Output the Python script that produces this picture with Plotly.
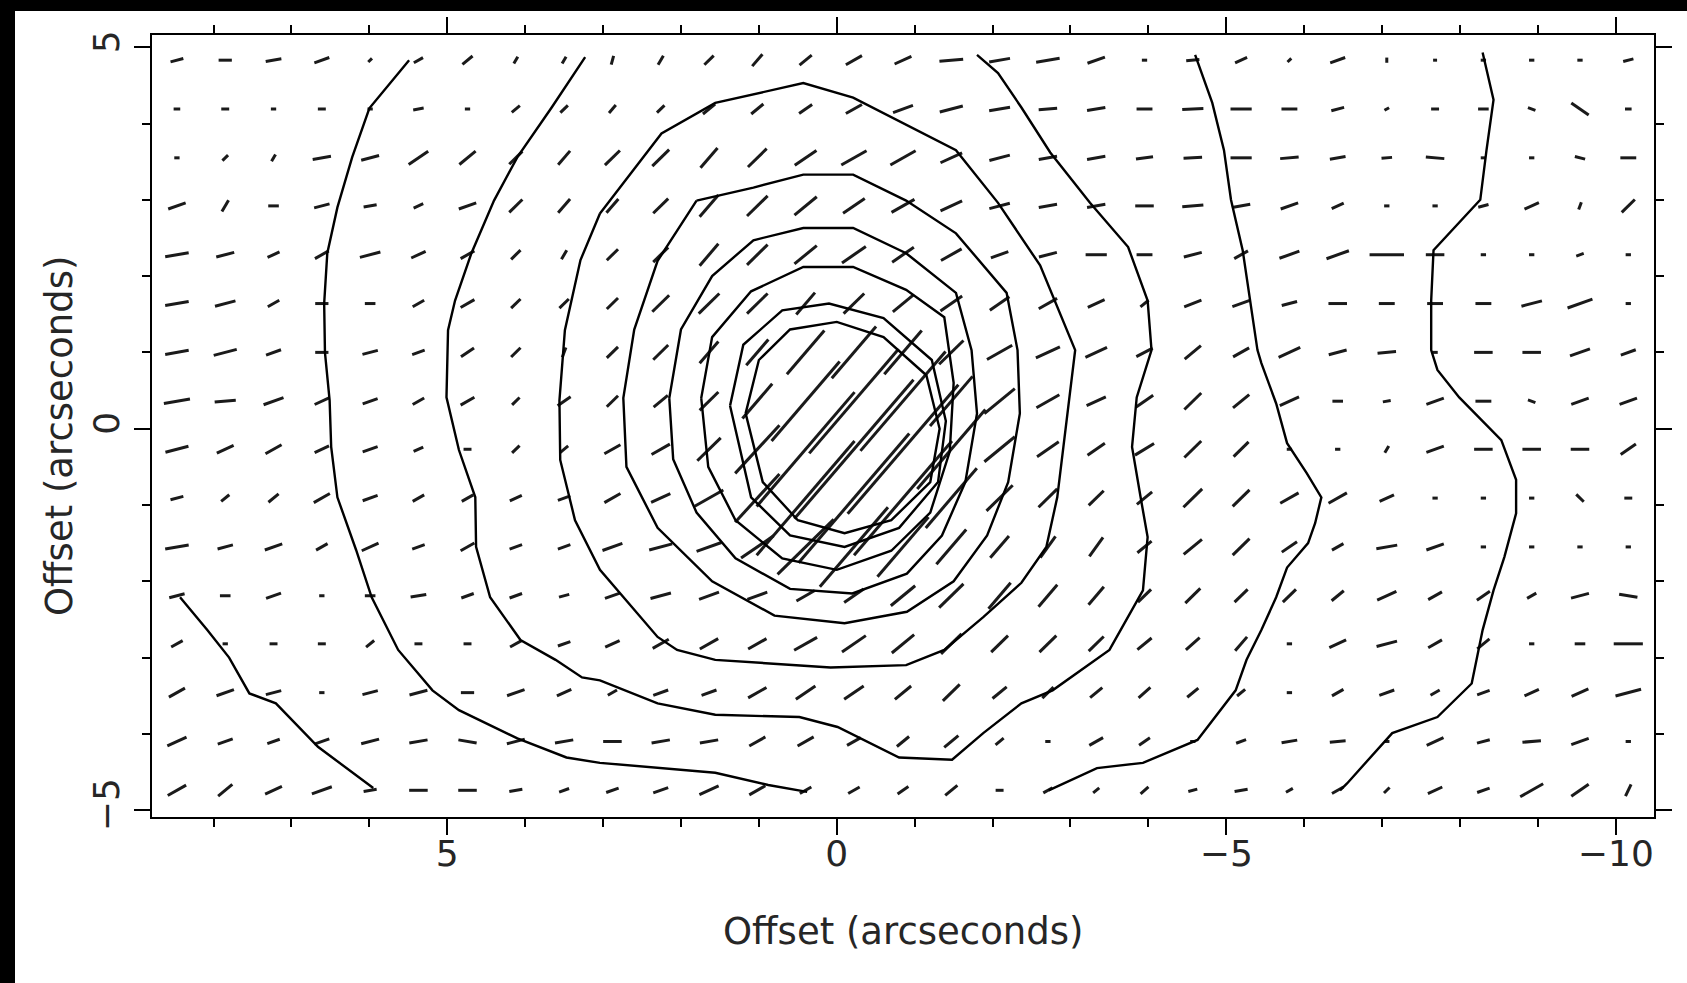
import numpy as np
import plotly.graph_objects as go

# Grid of polarization measurements (offsets in arcseconds)
x_cols = [8.47, 7.85, 7.23, 6.61, 5.99, 5.37, 4.74, 4.12, 3.50, 2.88, 2.26, 1.64, 1.02, 0.40,
          -0.22, -0.85, -1.47, -2.09, -2.71, -3.33, -3.95, -4.57, -5.19, -5.81, -6.43, -7.06,
          -7.68, -8.30, -8.92, -9.54, -10.16]
y_rows = [4.83, 4.19, 3.55, 2.92, 2.28, 1.64, 1.00, 0.36, -0.27, -0.91, -1.55, -2.19,
          -2.82, -3.46, -4.10, -4.74]

# Polarization degree (%) per row, north to south
pol_pct = [
    [1.0, 1.0, 1.2, 1.2, 0.4, 0.8, 1.0, 0.6, 0.6, 0.7, 0.8, 1.0, 1.2, 1.2, 1.4, 1.4, 1.8, 1.6, 1.8, 1.4, 0.4, 1.0, 1.0, 0.4, 1.2, 0.4, 0.3, 0.4, 0.4, 0.4, 0.8],
    [0.5, 0.6, 0.4, 0.6, 0.4, 0.8, 0.4, 0.8, 0.8, 0.8, 0.8, 1.2, 1.2, 1.2, 1.4, 1.6, 1.8, 1.6, 1.4, 1.4, 1.2, 1.6, 1.6, 1.2, 1.0, 0.4, 0.6, 0.8, 0.6, 1.6, 0.5],
    [0.4, 0.6, 0.6, 1.4, 1.4, 1.8, 1.6, 1.4, 1.4, 1.6, 1.8, 2.0, 2.0, 2.0, 2.2, 2.2, 1.8, 1.6, 1.4, 1.4, 1.3, 1.4, 1.6, 1.4, 1.2, 0.8, 1.4, 0.4, 0.4, 0.8, 1.2],
    [1.4, 1.0, 0.8, 1.2, 1.0, 0.8, 1.4, 1.4, 1.4, 1.4, 1.6, 2.2, 2.2, 2.2, 2.0, 2.0, 1.8, 1.6, 1.4, 1.4, 1.4, 1.6, 1.4, 1.4, 1.0, 0.4, 0.4, 0.8, 1.2, 0.6, 1.4],
    [1.8, 1.4, 1.0, 1.2, 1.6, 1.2, 1.2, 1.0, 0.8, 1.2, 1.6, 2.2, 2.2, 2.2, 2.2, 2.0, 1.8, 1.4, 1.4, 1.6, 1.2, 1.4, 1.2, 1.6, 1.8, 2.6, 1.4, 0.4, 0.4, 0.6, 0.4],
    [1.8, 1.6, 1.0, 1.0, 0.8, 1.0, 1.2, 1.0, 1.0, 1.2, 1.8, 2.2, 2.2, 2.2, 2.2, 2.0, 2.0, 1.8, 1.6, 1.4, 0.8, 1.4, 1.4, 1.2, 1.4, 1.2, 1.2, 1.2, 1.6, 2.0, 0.4],
    [1.8, 1.8, 1.2, 1.0, 1.2, 1.0, 1.2, 1.0, 0.8, 1.2, 1.6, 2.2, 2.6, 4.4, 5.2, 4.4, 2.6, 2.2, 2.0, 1.8, 1.4, 1.6, 1.4, 1.8, 1.4, 1.4, 0.4, 1.4, 1.4, 1.6, 1.2],
    [2.0, 1.6, 1.6, 1.2, 1.2, 1.0, 1.2, 0.8, 1.2, 1.2, 1.4, 2.0, 3.5, 8.0, 10.5, 10.0, 5.0, 3.0, 2.0, 1.6, 1.6, 1.8, 1.6, 1.6, 0.8, 0.6, 1.4, 1.2, 0.6, 1.4, 1.4],
    [1.8, 1.4, 1.4, 1.2, 1.2, 0.8, 0.6, 0.8, 0.8, 1.4, 1.6, 2.5, 5.0, 11.5, 14.0, 13.0, 8.0, 3.0, 2.0, 1.6, 1.7, 1.8, 1.6, 0.4, 0.4, 0.6, 1.4, 1.4, 1.4, 1.4, 1.4],
    [1.0, 0.8, 1.0, 1.4, 1.2, 1.0, 1.0, 1.0, 1.0, 1.4, 1.6, 2.5, 5.0, 11.5, 13.0, 11.5, 6.0, 2.8, 2.0, 1.6, 1.5, 2.0, 1.8, 1.6, 1.6, 1.2, 0.4, 0.4, 0.4, 0.8, 0.6],
    [1.8, 1.2, 1.4, 1.0, 1.4, 1.0, 1.2, 1.0, 1.0, 1.6, 1.8, 2.0, 3.0, 6.0, 8.0, 6.0, 3.5, 2.2, 2.0, 1.8, 1.4, 1.8, 1.8, 1.4, 1.0, 1.6, 1.4, 0.4, 0.4, 0.4, 0.4],
    [1.2, 0.8, 1.2, 0.4, 0.8, 1.2, 1.0, 1.0, 0.8, 1.2, 1.6, 1.6, 1.6, 1.6, 1.8, 2.4, 2.6, 2.6, 2.2, 1.8, 1.4, 1.6, 1.4, 1.4, 1.2, 1.6, 1.2, 1.2, 0.8, 1.4, 1.4],
    [1.0, 0.4, 0.6, 0.6, 0.8, 0.6, 0.6, 1.0, 1.0, 1.2, 1.4, 1.6, 1.6, 2.0, 2.2, 2.2, 2.2, 1.8, 1.8, 1.6, 1.4, 1.4, 1.4, 0.4, 1.4, 1.6, 1.2, 1.2, 0.4, 0.8, 2.2],
    [1.4, 1.4, 1.2, 0.4, 1.2, 1.4, 1.0, 1.4, 1.2, 0.8, 1.2, 1.2, 1.6, 1.8, 1.8, 1.6, 1.8, 1.4, 1.2, 1.2, 1.2, 1.1, 0.8, 0.4, 1.0, 1.2, 0.8, 1.0, 1.2, 1.4, 2.0],
    [1.6, 1.2, 1.0, 1.2, 1.4, 1.4, 1.4, 1.4, 1.4, 1.4, 1.4, 1.4, 1.4, 1.4, 1.2, 1.2, 1.4, 0.8, 0.4, 1.2, 1.0, 0.4, 0.8, 1.2, 1.2, 0.4, 1.4, 1.0, 1.4, 1.4, 0.4],
    [1.6, 1.4, 1.4, 1.6, 1.0, 1.4, 1.4, 1.0, 0.8, 1.0, 1.2, 1.6, 1.4, 1.0, 1.0, 1.0, 1.2, 0.6, 0.8, 0.6, 0.8, 0.7, 1.0, 0.6, 1.0, 0.6, 1.2, 1.0, 2.0, 1.6, 1.0],
]

# Position angle of the E-vector (degrees, north through east)
pol_pa = [
    [105, 90, 100, 110, 135, 120, 130, 150, 150, 165, 150, 135, 140, 130, 120, 115, 95, 100, 100, 110, 90, 95, 115, 135, 110, 180, 90, 90, 90, 90, 105],
    [90, 90, 90, 90, 90, 100, 90, 130, 135, 140, 135, 130, 130, 125, 120, 110, 105, 100, 95, 100, 90, 93, 90, 90, 105, 120, 90, 90, 70, 55, 90],
    [90, 135, 150, 100, 105, 125, 130, 135, 140, 135, 135, 140, 135, 125, 120, 120, 115, 105, 100, 100, 98, 93, 90, 95, 100, 95, 85, 90, 90, 75, 90],
    [110, 150, 90, 105, 100, 115, 110, 135, 140, 140, 135, 140, 135, 130, 125, 120, 115, 105, 100, 100, 90, 95, 100, 110, 115, 90, 90, 105, 115, 160, 135],
    [100, 105, 115, 120, 105, 115, 120, 135, 150, 135, 135, 140, 135, 130, 125, 125, 120, 110, 105, 90, 90, 105, 120, 110, 110, 90, 90, 90, 90, 110, 90],
    [100, 105, 120, 90, 90, 120, 120, 135, 135, 135, 135, 135, 135, 140, 135, 130, 125, 125, 120, 115, 130, 112, 110, 105, 90, 90, 90, 90, 105, 110, 90],
    [100, 105, 110, 90, 105, 110, 125, 135, 160, 135, 135, 140, 140, 140, 140, 140, 135, 120, 115, 115, 118, 130, 120, 115, 105, 95, 90, 90, 90, 110, 110],
    [100, 95, 110, 115, 110, 120, 120, 135, 125, 135, 130, 135, 140, 140, 140, 140, 140, 130, 120, 115, 125, 135, 130, 115, 90, 100, 110, 90, 70, 110, 110],
    [105, 115, 120, 115, 110, 115, 90, 135, 130, 120, 120, 135, 138, 140, 140, 140, 140, 130, 125, 125, 122, 135, 135, 90, 90, 150, 110, 90, 90, 90, 125],
    [105, 130, 130, 120, 110, 120, 120, 115, 110, 120, 115, 120, 138, 140, 140, 140, 140, 135, 135, 135, 130, 135, 135, 120, 120, 115, 90, 90, 90, 45, 90],
    [100, 105, 110, 120, 115, 110, 120, 110, 110, 110, 105, 110, 125, 135, 140, 140, 140, 140, 145, 145, 130, 130, 135, 125, 120, 100, 110, 90, 90, 90, 90],
    [105, 90, 110, 90, 90, 100, 110, 110, 105, 110, 105, 110, 110, 120, 125, 130, 135, 140, 140, 140, 135, 135, 135, 135, 130, 115, 120, 125, 120, 105, 80],
    [120, 90, 90, 90, 130, 90, 90, 120, 110, 115, 120, 120, 120, 120, 125, 130, 135, 135, 135, 135, 130, 132, 140, 90, 115, 105, 120, 130, 90, 90, 90],
    [120, 110, 105, 90, 105, 105, 90, 110, 115, 120, 110, 110, 120, 125, 125, 130, 135, 130, 135, 130, 132, 130, 130, 90, 120, 110, 120, 110, 115, 115, 105],
    [115, 110, 110, 110, 105, 100, 80, 105, 100, 90, 100, 100, 120, 120, 120, 130, 130, 130, 90, 120, 125, 90, 110, 100, 95, 90, 115, 105, 95, 110, 90],
    [120, 130, 115, 110, 100, 90, 90, 100, 110, 110, 110, 115, 120, 120, 120, 125, 130, 90, 120, 130, 132, 105, 100, 120, 120, 135, 115, 110, 120, 125, 155],
]

VEC_SCALE = 0.17  # arcseconds of vector length per percent polarization

# Intensity contours (open paths run off the map edge)
contour_paths = {
    "c1_east": ([8.43, 8.08, 7.80, 7.54, 7.20, 6.66, 5.95],
                [-2.21, -2.64, -3.00, -3.47, -3.60, -4.17, -4.71]),
    "c2_east": ([5.49, 6.00, 6.22, 6.41, 6.54, 6.58, 6.57, 6.51, 6.49, 6.41, 6.17, 5.97, 5.63, 5.19,
                 4.85, 4.10, 3.47, 3.04, 1.56, 0.88, 0.38],
                [4.83, 4.20, 3.56, 2.90, 2.30, 1.64, 1.00, 0.37, -0.24, -0.90, -1.59, -2.21, -2.90,
                 -3.43, -3.69, -4.06, -4.31, -4.38, -4.51, -4.67, -4.76]),
    "c3": ([3.23, 3.66, 4.10, 4.40, 4.69, 4.90, 4.99, 5.01, 4.85, 4.64, 4.63, 4.45, 4.06, 3.61, 3.27,
            3.04, 2.30, 1.56, 0.48, -0.01, -0.80, -1.48, -1.88, -2.37, -2.77, -3.50, -3.93, -3.99,
            -3.90, -3.79, -3.85, -4.04, -3.99, -3.74, -3.25, -2.74, -2.37, -2.07, -1.80],
           [4.87, 4.21, 3.56, 2.99, 2.30, 1.68, 1.29, 0.41, -0.28, -0.90, -1.55, -2.21, -2.77, -3.03,
            -3.26, -3.30, -3.60, -3.75, -3.78, -3.91, -4.31, -4.34, -3.99, -3.60, -3.43, -2.90, -2.12,
            -1.42, -0.90, -0.24, 0.41, 1.03, 1.68, 2.38, 2.96, 3.62, 4.21, 4.66, 4.90]),
    "c2_west": ([-4.60, -4.82, -4.97, -5.06, -5.21, -5.31, -5.40, -5.45, -5.64, -5.78, -6.03, -6.22,
                 -6.14, -6.05, -5.78, -5.64, -5.45, -5.26, -5.12, -4.63, -3.93, -3.34, -2.72],
                [4.90, 4.27, 3.65, 3.00, 2.34, 1.68, 1.03, 0.86, 0.33, -0.19, -0.58, -0.90, -1.24,
                 -1.50, -1.82, -2.21, -2.64, -3.03, -3.43, -4.08, -4.38, -4.45, -4.74]),
    "c1_west": ([-8.29, -8.43, -8.34, -8.26, -7.66, -7.63, -7.63, -7.71, -7.99, -8.53, -8.72, -8.72,
                 -8.57, -8.43, -8.29, -8.21, -8.15, -7.71, -7.13, -6.55, -6.46],
                [4.93, 4.31, 3.65, 3.00, 2.34, 1.68, 1.03, 0.77, 0.41, -0.15, -0.67, -1.11, -1.68,
                 -2.12, -2.64, -3.03, -3.34, -3.78, -3.99, -4.65, -4.74]),
    "c4": ([3.04, 2.25, 1.56, 0.43, -0.21, -1.53, -2.07, -2.61, -3.06, -2.93, -2.83, -2.69, -2.37,
            -1.88, -1.38, -0.89, 0.08, 1.56, 2.05, 2.30, 3.04, 3.36, 3.55, 3.56, 3.49, 3.29, 3.04],
           [2.82, 3.87, 4.27, 4.53, 4.34, 3.65, 2.96, 2.14, 1.03, -0.02, -0.90, -1.55, -2.02, -2.47,
            -2.90, -3.10, -3.13, -3.03, -2.90, -2.73, -1.85, -1.20, -0.41, 0.37, 1.29, 2.21, 2.82]),
    "c5": ([1.80, 1.07, 0.43, -0.21, -0.89, -1.53, -2.18, -2.32, -2.35, -2.20, -1.93, -1.50, -0.90,
            -0.10, 0.80, 1.60, 2.30, 2.70, 2.74, 2.60, 2.30, 1.80],
           [2.99, 3.16, 3.33, 3.33, 2.99, 2.56, 1.78, 1.03, 0.20, -0.70, -1.40, -2.00, -2.40, -2.55,
            -2.45, -2.00, -1.30, -0.50, 0.40, 1.30, 2.20, 2.99]),
    "c6": ([2.15, 2.00, 1.60, 1.07, 0.43, -0.21, -0.89, -1.53, -1.73, -1.80, -1.65, -1.35, -0.90,
            -0.20, 0.60, 1.30, 1.80, 2.10, 2.15],
           [0.40, 1.30, 2.00, 2.47, 2.63, 2.63, 2.30, 1.78, 1.03, 0.20, -0.70, -1.40, -1.90, -2.16,
            -2.10, -1.70, -1.10, -0.40, 0.40]),
    "c7": ([1.74, 1.60, 1.10, 0.43, -0.21, -0.89, -1.38, -1.50, -1.45, -1.20, -0.70, 0.00, 0.70,
            1.30, 1.65, 1.74],
           [0.40, 1.20, 1.80, 2.12, 2.12, 1.82, 1.46, 0.60, -0.30, -1.10, -1.60, -1.85, -1.70,
            -1.20, -0.50, 0.40]),
    "c8": ([1.37, 1.20, 0.70, 0.10, -0.60, -1.22, -1.40, -1.30, -0.80, -0.10, 0.60, 1.10, 1.37],
           [0.30, 1.10, 1.55, 1.64, 1.45, 0.90, 0.10, -0.70, -1.30, -1.55, -1.40, -0.90, 0.30]),
    "c9": ([1.17, 1.00, 0.60, 0.00, -0.60, -1.15, -1.32, -1.20, -0.70, -0.10, 0.50, 0.95, 1.17],
           [0.20, 0.90, 1.30, 1.40, 1.20, 0.70, 0.00, -0.70, -1.20, -1.37, -1.20, -0.70, 0.20]),
}

X_RANGE = [8.79, -10.49]
Y_RANGE = [-5.09, 5.16]
INK = "#262626"
FONT = "DejaVu Sans"

# Build the polarization vectors as centred line segments
vx, vy = [], []
for j, yc in enumerate(y_rows):
    for i, xc in enumerate(x_cols):
        half = 0.5 * pol_pct[j][i] * VEC_SCALE
        pa = np.radians(pol_pa[j][i])
        dx = half * np.sin(pa)   # east (+x) is to the left
        dy = half * np.cos(pa)
        vx += [xc - dx, xc + dx, None]
        vy += [yc - dy, yc + dy, None]

fig = go.Figure()
fig.add_trace(go.Scatter(x=vx, y=vy, mode="lines",
                         line=dict(color="#1a1a1a", width=3.0), hoverinfo="skip",
                         showlegend=False))
for name, (cx, cy) in contour_paths.items():
    fig.add_trace(go.Scatter(x=cx, y=cy, mode="lines", name=name,
                             line=dict(color="#000000", width=2.4),
                             hoverinfo="skip", showlegend=False))

W, H = 1687, 983
L, R, T, B = 152, 33, 35, 166
pw, ph = W - L - R, H - T - B

def px_x(px):
    return (px - L) / pw

def px_y(py):
    return (H - B - py) / ph

axis_common = dict(
    showline=True, linecolor="#000000", linewidth=2.4, mirror="ticks",
    ticks="outside", ticklen=16, tickwidth=2, tickcolor="#000000",
    showgrid=False, zeroline=False,
    tickfont=dict(family=FONT, size=36, color=INK),
    minor=dict(dtick=1, tick0=0, ticks="outside", ticklen=8, tickwidth=2,
               tickcolor="#000000", showgrid=False),
)

fig.update_layout(
    width=W, height=H, autosize=False,
    margin=dict(l=L, r=R, t=T, b=B, pad=0),
    paper_bgcolor="#ffffff", plot_bgcolor="#ffffff",
    xaxis=dict(range=X_RANGE, tickmode="array", tickvals=[5, 0, -5, -10],
               ticktext=["5", "0", "\u22125", "\u221210"], ticklabelstandoff=-12,
               **axis_common),
    yaxis=dict(range=Y_RANGE, tickmode="array", tickvals=[-5, 0, 5],
               ticktext=["\u22125", "0", "5"], tickangle=-90, **axis_common),
    annotations=[
        dict(text="Offset (arcseconds)", xref="paper", yref="paper",
             x=0.5, y=px_y(931), xanchor="center", yanchor="middle",
             showarrow=False, font=dict(family=FONT, size=37, color=INK)),
        dict(text="Offset (arcseconds)", xref="paper", yref="paper",
             x=px_x(59), y=px_y(436), xanchor="center", yanchor="middle",
             textangle=-90, showarrow=False,
             font=dict(family=FONT, size=37, color=INK)),
    ],
    shapes=[
        dict(type="rect", xref="paper", yref="paper", layer="above",
             x0=px_x(0), x1=px_x(15), y0=px_y(H), y1=px_y(0),
             fillcolor="#000000", line=dict(width=0)),
        dict(type="rect", xref="paper", yref="paper", layer="above",
             x0=px_x(0), x1=px_x(W), y0=px_y(11), y1=px_y(0),
             fillcolor="#000000", line=dict(width=0)),
    ],
)

fig.write_html("out.html")
